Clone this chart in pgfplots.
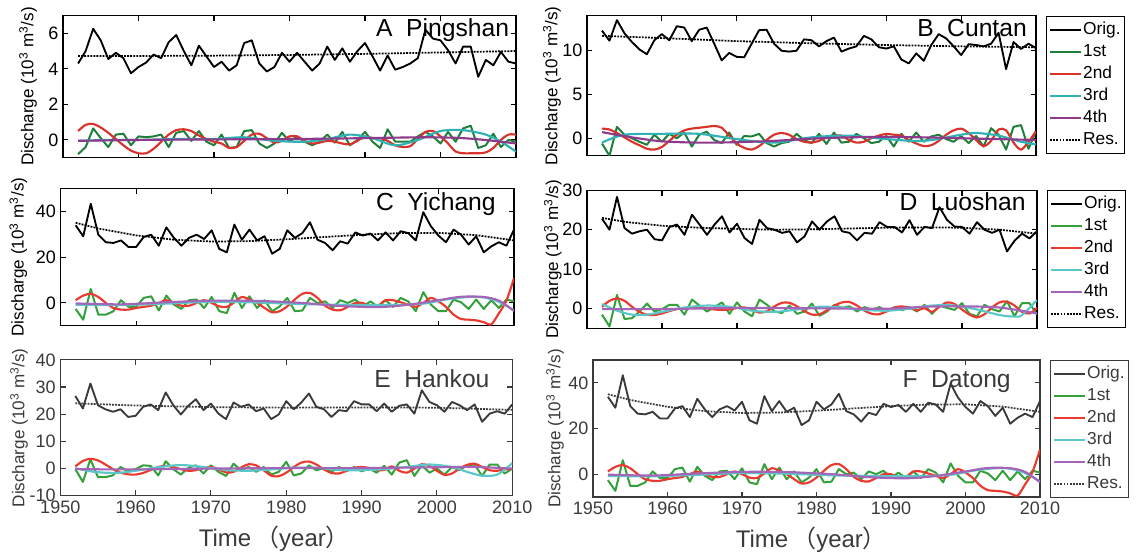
\documentclass[border=0pt]{standalone}
\usepackage{fontspec}
\setmainfont{Liberation Sans}
\newfontfamily\cjk{Noto Sans CJK SC}
\usepackage{pgfplots}
\usepackage{pgfplotstable}
\pgfplotsset{compat=1.18}

\definecolor{gA}{HTML}{1F7F3A}
\definecolor{rA}{HTML}{D8322A}
\definecolor{cA}{HTML}{2EB2B4}
\definecolor{pA}{HTML}{8E3A8C}
\definecolor{gC}{HTML}{33A03A}
\definecolor{rC}{HTML}{EA3A30}
\definecolor{cC}{HTML}{5CC7C9}
\definecolor{pC}{HTML}{A464B8}
\definecolor{frm}{HTML}{3A3A3A}

\tikzset{ttl/.style={font=\fontsize{18.5}{21}\selectfont, anchor=base east}}

\pgfplotsset{
  panel/.style={
    scale only axis, anchor=north west,
    xmin=1950, xmax=2010, xtick={1950,1960,...,2010},
    tick align=inside, major tick length=4pt,
    every tick/.style={line width=0.8pt},
    axis line style={line width=0.9pt},
    tick label style={font=\fontsize{13.5}{15}\selectfont},
    /pgf/number format/assume math mode=true,
    /pgf/number format/1000 sep={},
    ylabel={Discharge (10\textsuperscript{3} m\textsuperscript{3}/s)},
    ylabel style={font=\fontsize{12.8}{14}\selectfont, anchor=center},
    legend image code/.code={\draw[##1] (0pt,0pt) -- (23pt,0pt);},
    legend style={at={(1,1)}, anchor=north west, xshift=7.5pt, draw=black,
      line width=0.9pt, fill=white, font=\fontsize{13}{15}\selectfont,
      row sep=2.2pt, inner xsep=2pt, inner ysep=3pt,
      nodes={inner sep=0.8pt, text height=9.7pt, text depth=3pt},
      cells={anchor=west}},
  },
  ylab/.style={ylabel style={at={(axis description cs:#1,0.5)}}},
  orig/.style={black, line width=1.4pt, line join=round},
  res/.style={black, line width=1.3pt, dash pattern=on 1.4pt off 0.9pt},
  c1/.style={#1, line width=1.5pt, line join=round},
  cs/.style={#1, line width=1.6pt, smooth},
}

\pgfplotstableread{
year orig one two
1952 4.3 -0.8 0.5
1953 5.0 -0.4 0.85
1954 6.25 0.65 0.9
1955 5.6 0.1 0.7
1956 4.55 -0.4 0.4
1957 4.9 0.3 0.05
1958 4.6 0.35 -0.3
1959 3.75 -0.3 -0.6
1960 4.1 0.2 -0.75
1961 4.35 0.15 -0.75
1962 4.8 0.2 -0.5
1963 4.6 0.3 -0.1
1964 5.5 -0.4 0.3
1965 5.9 0.4 0.55
1966 5.0 0.5 0.6
1967 4.2 -0.05 0.5
1968 5.3 0.5 0.25
1969 4.7 -0.1 0.05
1970 4.1 -0.3 -0.1
1971 4.4 0.3 -0.2
1972 3.9 -0.45 -0.45
1973 4.2 -0.4 -0.4
1974 5.45 0.5 -0.05
1975 5.6 0.55 0.3
1976 4.3 -0.2 0.35
1977 3.85 -0.45 0.1
1978 4.1 -0.2 -0.15
1979 4.9 0.4 -0.05
1980 4.4 -0.1 0.2
1981 4.9 0.2 0.2
1982 4.4 -0.1 -0.05
1983 3.9 -0.3 -0.2
1984 4.3 -0.1 -0.15
1985 5.25 0.3 -0.05
1986 4.5 -0.15 -0.1
1987 5.15 0.45 -0.2
1988 4.4 -0.3 -0.25
1989 5.0 0.0 -0.05
1990 5.45 0.45 0.2
1991 4.7 -0.1 0.1
1992 3.9 -0.45 0.1
1993 4.75 0.6 -0.05
1994 3.95 -0.1 -0.3
1995 4.1 -0.1 -0.4
1996 4.3 -0.1 -0.35
1997 4.6 0.2 0.05
1998 6.2 0.45 0.45
1999 5.7 0.2 0.5
2000 5.6 -0.2 0.2
2001 5.05 0.45 -0.2
2002 4.3 -0.1 -0.65
2003 5.25 0.65 -0.75
2004 5.25 0.8 -0.75
2005 3.55 -0.45 -0.75
2006 4.5 -0.3 -0.7
2007 4.2 0.35 -0.45
2008 4.95 -0.4 0.0
2009 4.4 0.0 0.3
2010 4.3 -0.1 0.3
}\pingshan

\pgfplotstableread{
year orig one two
1952 12.3 -0.6 1.1
1953 11.15 -2.0 1.0
1954 13.5 1.3 0.6
1955 12.0 0.4 0.1
1956 11.0 0.0 -0.4
1957 10.15 -0.4 -0.8
1958 9.6 -0.75 -1.2
1959 11.2 0.4 -1.3
1960 11.9 -0.4 -1.0
1961 11.2 0.5 -0.3
1962 12.8 0.0 0.4
1963 12.65 0.65 0.9
1964 11.1 -0.95 1.1
1965 12.4 0.4 1.2
1966 12.65 0.75 1.3
1967 10.8 -0.2 1.4
1968 8.9 -0.55 1.2
1969 9.75 0.65 0.3
1970 9.3 -0.75 -0.6
1971 9.25 0.25 -1.1
1972 10.8 0.2 -1.3
1973 12.35 0.5 -0.9
1974 12.4 -0.55 -0.2
1975 10.8 -0.95 0.4
1976 10.0 -0.55 0.6
1977 9.9 -0.4 0.4
1978 10.0 0.5 -0.1
1979 11.3 -0.2 -0.4
1980 11.2 -0.55 -0.5
1981 10.5 0.5 -0.3
1982 11.1 -0.65 0.1
1983 11.5 0.65 0.3
1984 9.9 -0.5 0.3
1985 10.25 -0.4 -0.2
1986 10.5 0.5 -0.5
1987 11.7 0.0 -0.4
1988 11.3 -0.55 0.0
1989 10.4 -0.4 0.3
1990 10.25 0.25 0.5
1991 10.5 -0.95 0.4
1992 9.0 0.5 0.3
1993 8.55 -0.4 -0.2
1994 9.7 0.65 -0.6
1995 8.85 -0.4 -0.9
1996 10.65 0.2 -0.8
1997 11.9 0.4 -0.3
1998 11.4 -0.1 0.4
1999 10.5 -0.4 0.9
2000 9.5 0.25 1.1
2001 10.75 -0.55 0.6
2002 10.65 0.25 -0.2
2003 10.5 -0.95 -0.9
2004 10.8 1.15 -0.3
2005 12.05 0.4 1.0
2006 7.9 -1.3 0.9
2007 11.0 1.3 -0.5
2008 10.2 1.5 -1.3
2009 10.8 -1.2 -0.4
2010 10.3 0.8 0.8
}\cuntan

\pgfplotstableread{
year orig one two
1952 33.9 -2.6 1.2
1953 29.1 -7.3 3.2
1954 43.3 6.1 4.0
1955 29.8 -5.1 2.6
1956 26.5 -5.1 0.0
1957 26.2 -3.6 -2.2
1958 27.3 1.2 -2.9
1959 24.4 -1.7 -2.9
1960 24.4 -1.7 -2.2
1961 28.8 2.2 -1.7
1962 29.8 2.9 -1.2
1963 25.0 -3.3 0.0
1964 33.0 3.2 1.2
1965 28.4 -0.7 0.0
1966 25.0 -2.6 -1.2
1967 28.4 1.2 -1.2
1968 29.8 1.5 0.0
1969 27.9 -2.2 1.2
1970 31.7 2.6 0.0
1971 23.6 -3.6 -1.5
1972 22.1 -4.4 -1.7
1973 34.2 4.4 0.3
1974 27.6 -2.2 2.6
1975 32.0 2.9 1.5
1976 27.3 -2.2 0.0
1977 29.1 1.2 -2.2
1978 21.5 -3.6 -4.1
1979 23.6 -1.5 -3.6
1980 31.7 2.2 -1.5
1981 28.4 -3.6 1.5
1982 30.5 -3.3 4.0
1983 35.2 2.2 4.4
1984 27.6 0.0 2.2
1985 26.2 0.7 -1.2
1986 23.0 -2.2 -2.9
1987 26.9 1.2 -3.2
1988 25.9 0.0 -1.7
1989 30.8 1.5 0.0
1990 29.4 -1.7 0.0
1991 30.3 0.7 -1.5
1992 27.3 -1.7 -1.2
1993 30.8 1.2 1.2
1994 27.3 -1.7 1.2
1995 31.3 2.2 0.3
1996 30.5 0.7 -0.7
1997 27.3 -3.6 -1.7
1998 39.6 4.7 0.0
1999 33.5 -0.7 2.2
2000 29.4 -3.6 0.7
2001 26.5 -3.6 -1.7
2002 32.0 1.5 -5.1
2003 29.8 0.3 -7.0
2004 25.5 -2.6 -7.3
2005 29.1 1.5 -7.6
2006 22.1 -2.6 -8.4
2007 24.7 1.2 -9.3
2008 26.5 -2.2 -4.5
2009 25.0 1.5 1.0
2010 32.0 0.7 10.8
}\yichang

\pgfplotstableread{
year orig one two
1952 22.8 -1.5 0.5
1953 20.0 -4.5 2.0
1954 28.3 3.5 2.6
1955 20.4 -2.6 2.0
1956 19.0 -2.4 0.5
1957 19.6 -0.7 -0.8
1958 20.0 1.3 -1.5
1959 17.6 -0.7 -1.6
1960 17.3 -0.1 -1.2
1961 20.7 1.0 -0.6
1962 21.3 1.0 -0.1
1963 18.7 -1.5 0.2
1964 23.8 2.3 0.3
1965 21.3 0.8 0.3
1966 18.7 -0.7 0.1
1967 21.3 0.4 -0.2
1968 23.4 1.6 -0.3
1969 19.3 -1.3 -0.2
1970 21.5 1.6 0.2
1971 17.9 -0.7 0.3
1972 16.4 -1.9 -0.3
1973 22.5 2.3 -1.0
1974 20.4 1.0 -0.6
1975 20.0 -0.7 0.6
1976 19.2 -1.1 1.5
1977 19.6 0.8 1.5
1978 16.8 -1.3 0.6
1979 18.3 -0.7 -0.6
1980 22.1 1.3 -1.5
1981 20.0 -1.8 -1.4
1982 22.1 -0.7 -0.4
1983 23.4 1.0 0.8
1984 19.6 0.2 1.6
1985 19.2 0.6 1.7
1986 17.3 -0.7 0.8
1987 19.2 0.4 -0.5
1988 19.0 -0.3 -1.3
1989 21.9 0.4 -1.4
1990 20.7 -0.7 -0.6
1991 20.7 0.4 0.3
1992 19.3 -0.4 0.6
1993 22.4 0.4 0.2
1994 18.7 -0.7 -0.4
1995 20.7 1.0 0.1
1996 20.4 -1.3 -0.8
1997 25.7 0.8 0.5
1998 22.5 0.2 1.6
1999 20.8 -0.3 1.2
2000 20.7 1.4 -0.2
2001 19.0 -1.3 -1.5
2002 21.9 -1.9 -2.2
2003 20.0 1.0 -1.4
2004 19.2 -0.1 0.3
2005 20.0 -0.7 1.6
2006 14.5 1.9 1.8
2007 17.2 -1.9 0.8
2008 19.0 1.4 -0.8
2009 17.8 1.4 -1.2
2010 19.6 -1.5 0.2
}\luoshan

\pgfplotstableread{
year orig one two
1952 26.7 -0.2 0.8
1953 22.1 -4.9 2.8
1954 31.3 3.4 3.6
1955 23.3 -3.1 3.0
1956 21.8 -3.1 1.5
1957 20.9 -2.5 -0.2
1958 21.8 0.6 -1.5
1959 19.0 -1.0 -2.1
1960 19.4 -0.2 -2.2
1961 22.7 1.2 -1.6
1962 23.6 1.0 -0.5
1963 21.5 -2.5 0.6
1964 28.0 2.7 1.0
1965 23.3 -0.2 0.6
1966 19.9 -2.2 -0.2
1967 23.1 0.3 -0.8
1968 25.5 1.2 -0.6
1969 21.5 -1.8 0.3
1970 23.9 1.2 0.6
1971 20.2 -1.2 -0.3
1972 18.2 -2.7 -1.4
1973 24.3 1.8 -1.2
1974 22.7 -0.6 0.4
1975 23.6 0.6 1.6
1976 21.1 -1.2 1.2
1977 22.1 0.6 -0.6
1978 18.2 -2.2 -2.6
1979 19.9 -1.2 -2.8
1980 24.8 2.5 -1.5
1981 21.8 -2.5 0.6
1982 24.3 -1.8 2.2
1983 27.6 1.2 2.6
1984 22.7 -0.6 1.5
1985 21.8 0.2 -0.3
1986 19.0 -1.2 -1.6
1987 21.5 0.6 -1.8
1988 21.1 -1.0 -0.8
1989 24.8 0.6 0.3
1990 23.6 -1.0 0.6
1991 23.6 0.0 0.2
1992 21.1 -1.5 -0.6
1993 23.9 1.0 -0.5
1994 20.9 -2.2 0.8
1995 23.1 2.2 -0.8
1996 23.6 3.1 -1.5
1997 20.2 -2.7 0.0
1998 28.8 1.2 1.6
1999 24.5 -1.5 1.0
2000 23.3 0.0 -0.8
2001 20.9 -2.2 -2.3
2002 24.5 0.6 -1.8
2003 23.3 -0.6 0.0
2004 21.5 1.2 1.4
2005 23.6 1.5 1.8
2006 17.2 -2.7 0.6
2007 20.2 1.5 -0.6
2008 21.1 1.5 -0.8
2009 20.2 -1.8 -0.3
2010 23.6 0.0 -0.2
}\hankou

\begin{document}
\begin{tikzpicture}
\path[use as bounding box] (0pt,0pt) rectangle (852pt,-414.75pt);

% A Pingshan
\begin{axis}[panel, ylab=-0.077, at={(47.25pt,-11.6pt)},
  width=339.75pt, height=106.7pt, ymin=-1, ymax=7, ytick={0,2,4,6},
  xticklabels={}]
  \addplot[orig] table[x=year,y=orig] {\pingshan};
  \addplot[c1=gA] table[x=year,y=one] {\pingshan};
  \addplot[cs=rA] table[x=year,y=two] {\pingshan};
  \addplot[cs=cA] coordinates {(1952,-0.05) (1956,0.0) (1960,0.0) (1965,0.05) (1970,0.05) (1974,0.15) (1978,-0.05) (1982,-0.1) (1985,0.05) (1988,0.3) (1991,0.1) (1994,-0.3) (1997,0.0) (2000,0.5) (2003,0.55) (2006,0.3) (2008,-0.1) (2010,-0.65)};
  \addplot[cs=pA] coordinates {(1952,-0.05) (1960,0.0) (1970,0.03) (1980,0.05) (1990,0.1) (1998,0.15) (2003,0.1) (2007,-0.05) (2010,-0.2)};
  \addplot[res] coordinates {(1952,4.72) (1960,4.72) (1970,4.74) (1980,4.78) (1990,4.84) (2000,4.92) (2010,5.0)};
  \node[ttl] at (rel axis cs:0.995,0.85) {A\hspace{0.55em}Pingshan};
\end{axis}

% B Cuntan
\begin{axis}[panel, ylab=-0.078, at={(440.25pt,-11.8pt)},
  width=336.75pt, height=105pt, ymin=-2, ymax=14, ytick={0,5,10},
  xticklabels={}, legend entries={Orig.,1st,2nd,3rd,4th,Res.}]
  \addplot[orig] table[x=year,y=orig] {\cuntan};
  \addplot[c1=gA] table[x=year,y=one] {\cuntan};
  \addplot[cs=rA] table[x=year,y=two] {\cuntan};
  \addplot[cs=cA] coordinates {(1952,-0.5) (1955,0.4) (1960,0.5) (1965,0.5) (1970,-0.1) (1975,-0.5) (1980,0.1) (1985,0.3) (1990,-0.1) (1995,-0.3) (2000,0.4) (2002,0.6) (2005,0.3) (2008,-0.4) (2010,-0.7)};
  \addplot[cs=pA] coordinates {(1952,0.7) (1956,0.1) (1960,-0.35) (1965,-0.5) (1970,-0.45) (1975,-0.3) (1980,-0.05) (1985,0.1) (1990,0.15) (1995,0.1) (2000,0.0) (2005,-0.1) (2010,-0.2)};
  \addplot[res] coordinates {(1952,11.7) (1960,11.45) (1970,11.1) (1980,10.85) (1990,10.65) (2000,10.5) (2010,10.4)};
  \node[ttl] at (rel axis cs:0.99,0.85) {B\hspace{0.55em}Cuntan};
\end{axis}

% C Yichang
\begin{axis}[panel, ylab=-0.093, at={(45.4pt,-141.3pt)},
  width=340.1pt, height=103.1pt, ymin=-10, ymax=50, ytick={0,20,40},
  xticklabels={}]
  \addplot[orig] table[x=year,y=orig] {\yichang};
  \addplot[c1=gC] table[x=year,y=one] {\yichang};
  \addplot[cs=rC] table[x=year,y=two] {\yichang};
  \addplot[cs=cC] coordinates {(1952,-0.8) (1958,-0.9) (1964,-0.3) (1970,0.5) (1976,0.2) (1982,-0.5) (1988,-0.8) (1994,-0.9) (1998,-0.3) (2001,1.5) (2004,2.6) (2006,2.4) (2008,0.5) (2010,-3.2)};
  \addplot[cs=pC] coordinates {(1952,-0.2) (1958,-0.6) (1964,0.3) (1970,1.0) (1976,0.9) (1982,0.0) (1987,-1.3) (1992,-1.8) (1996,-0.8) (2000,1.2) (2003,2.7) (2006,2.6) (2008,1.0) (2010,-3.5)};
  \addplot[res] coordinates {(1952,35.0) (1955,32.5) (1960,29.5) (1965,27.6) (1970,26.8) (1975,27.0) (1980,27.8) (1985,28.8) (1990,29.8) (1995,30.5) (2000,30.6) (2005,29.6) (2010,27.3)};
  \node[ttl] at (rel axis cs:0.97,0.84) {C\hspace{0.55em}Yichang};
\end{axis}

% D Luoshan
\begin{axis}[panel, ylab=-0.076, at={(440.25pt,-142.65pt)},
  width=337.5pt, height=103.7pt, ymin=-5, ymax=30, ytick={0,10,20,30},
  xticklabels={}, legend entries={Orig.,1st,2nd,3rd,4th,Res.}]
  \addplot[orig] table[x=year,y=orig] {\luoshan};
  \addplot[c1=gC] table[x=year,y=one] {\luoshan};
  \addplot[cs=rC] table[x=year,y=two] {\luoshan};
  \addplot[cs=cC] coordinates {(1952,1.2) (1954,-0.5) (1956,-1.5) (1958,-1.5) (1960,-0.8) (1963,0.3) (1966,0.8) (1969,0.5) (1972,-0.5) (1975,-0.8) (1978,-0.2) (1981,0.5) (1984,0.3) (1987,-0.3) (1990,-0.5) (1993,0.0) (1996,0.8) (1999,0.8) (2002,-0.2) (2005,-1.6) (2007,-2.0) (2008,-1.6) (2010,2.2)};
  \addplot[cs=pC] coordinates {(1952,-0.1) (1960,-0.1) (1970,0.2) (1980,0.1) (1990,0.0) (1995,0.5) (2000,0.6) (2005,0.3) (2010,-1.2)};
  \addplot[res] coordinates {(1952,23.0) (1955,22.0) (1960,21.0) (1965,20.5) (1970,20.2) (1975,20.0) (1980,20.1) (1985,20.3) (1990,20.5) (1995,20.6) (2000,20.5) (2005,20.0) (2010,19.0)};
  \node[ttl] at (rel axis cs:0.985,0.85) {D\hspace{0.55em}Luoshan};
\end{axis}

% E Hankou
\begin{axis}[panel, ylab=-0.091, at={(45.2pt,-269.85pt)},
  width=339pt, height=102pt, ymin=-10, ymax=40, ytick={-10,0,...,40},
  axis line style={frm}, every tick/.style={frm, line width=0.8pt},
  tick label style={text=frm}, ylabel style={text=frm},
  xlabel={Time\,{\cjk （}year{\cjk ）}},
  xlabel style={at={(axis description cs:0.296,-0.375)}, anchor=base west,
    font=\fontsize{18}{21}\selectfont, text=frm}]
  \addplot[orig, draw=frm] table[x=year,y=orig] {\hankou};
  \addplot[c1=gC] table[x=year,y=one] {\hankou};
  \addplot[cs=rC] table[x=year,y=two] {\hankou};
  \addplot[cs=cC] coordinates {(1952,0.2) (1954,-1.0) (1956,-1.5) (1958,-1.5) (1960,-0.8) (1963,0.5) (1966,1.3) (1969,0.6) (1972,-0.5) (1975,-0.8) (1978,-0.3) (1981,0.3) (1984,0.3) (1987,-0.5) (1990,-0.6) (1993,-0.2) (1996,0.6) (1999,1.5) (2002,0.6) (2004,-1.2) (2006,-2.6) (2008,-2.2) (2010,2.0)};
  \addplot[cs=pC] coordinates {(1952,-0.2) (1960,-0.3) (1970,0.0) (1980,0.2) (1990,0.2) (2000,0.5) (2005,0.6) (2010,0.0)};
  \addplot[res, draw=frm] coordinates {(1952,24.0) (1960,23.2) (1970,22.6) (1980,22.4) (1990,22.5) (2000,22.4) (2010,21.6)};
  \node[ttl, text=frm] at (rel axis cs:0.96,0.8) {E\hspace{0.55em}Hankou};
\end{axis}

% F Datong
\begin{axis}[panel, ylab=-0.085, at={(444.75pt,-270pt)},
  width=335.25pt, height=102.75pt, ymin=-10, ymax=50, ytick={0,20,40},
  axis line style={frm}, every tick/.style={frm, line width=0.8pt},
  tick label style={text=frm}, ylabel style={text=frm},
  legend entries={Orig.,1st,2nd,3rd,4th,Res.},
  legend style={draw=frm, text=frm},
  xlabel={Time\,{\cjk （}year{\cjk ）}},
  xlabel style={at={(axis description cs:0.309,-0.365)}, anchor=base west,
    font=\fontsize{18}{21}\selectfont, text=frm}]
  \addplot[orig, draw=frm] table[x=year,y=orig] {\yichang};
  \addplot[c1=gC] table[x=year,y=one] {\yichang};
  \addplot[cs=rC] table[x=year,y=two] {\yichang};
  \addplot[cs=cC] coordinates {(1952,-0.8) (1958,-0.9) (1964,-0.3) (1970,0.5) (1976,0.2) (1982,-0.5) (1988,-0.8) (1994,-0.9) (1998,-0.3) (2001,1.5) (2004,2.6) (2006,2.4) (2008,0.5) (2010,-3.2)};
  \addplot[cs=pC] coordinates {(1952,-0.2) (1958,-0.6) (1964,0.3) (1970,1.0) (1976,0.9) (1982,0.0) (1987,-1.3) (1992,-1.8) (1996,-0.8) (2000,1.2) (2003,2.7) (2006,2.6) (2008,1.0) (2010,-3.5)};
  \addplot[res, draw=frm] coordinates {(1952,35.0) (1955,32.5) (1960,29.5) (1965,27.6) (1970,26.8) (1975,27.0) (1980,27.8) (1985,28.8) (1990,29.8) (1995,30.5) (2000,30.6) (2005,29.6) (2010,27.3)};
  \node[ttl, text=frm] at (rel axis cs:0.945,0.8) {F\hspace{0.55em}Datong};
\end{axis}
\end{tikzpicture}
\end{document}
